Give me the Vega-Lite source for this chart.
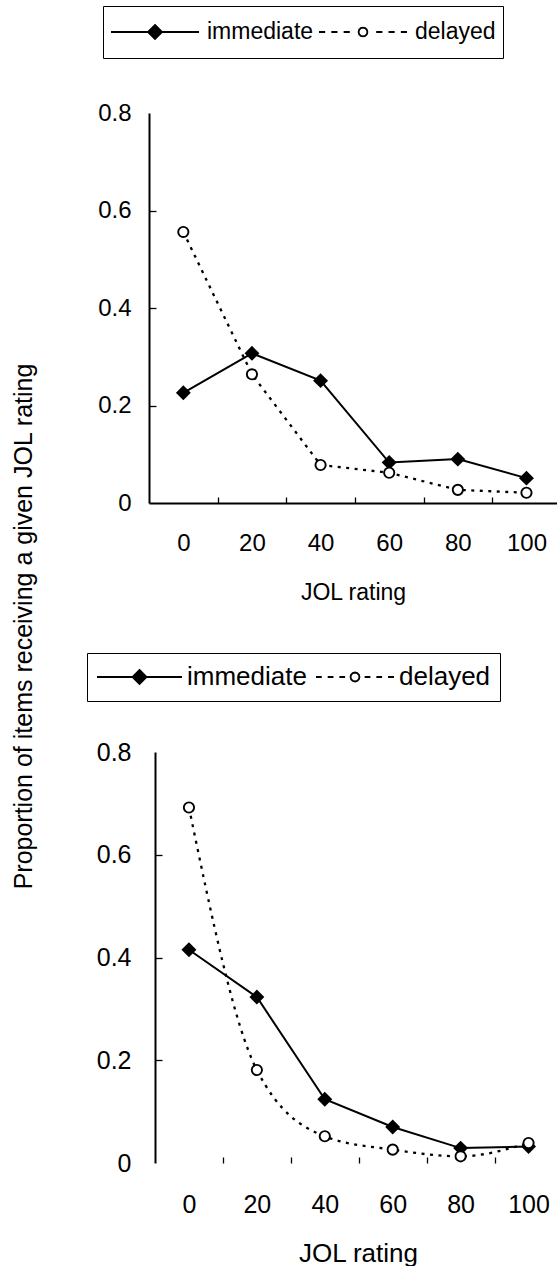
{
  "$schema": "https://vega.github.io/schema/vega-lite/v6.json",
  "background": "white",
  "padding": {"left": 11, "top": 5, "right": 0, "bottom": 0},
  "config": {
    "font": "Liberation Sans",
    "view": {"stroke": null},
    "axis": {"domainColor": "black", "domainWidth": 2, "tickColor": "black", "tickWidth": 1.3, "labelColor": "black", "titleColor": "black", "grid": false, "titleFontWeight": "normal", "labelFont": "Liberation Sans", "titleFont": "Liberation Sans", "labelFlush": false, "labelOverlap": false, "labelBound": false},
    "text": {"font": "Liberation Sans", "color": "black"}
  },
  "datasets": {
    "jol": [
      {"panel": "SSSJT", "condition": "immediate", "rating": 0, "proportion": 0.226},
      {"panel": "SSSJT", "condition": "immediate", "rating": 20, "proportion": 0.307},
      {"panel": "SSSJT", "condition": "immediate", "rating": 40, "proportion": 0.251},
      {"panel": "SSSJT", "condition": "immediate", "rating": 60, "proportion": 0.083},
      {"panel": "SSSJT", "condition": "immediate", "rating": 80, "proportion": 0.090},
      {"panel": "SSSJT", "condition": "immediate", "rating": 100, "proportion": 0.051},
      {"panel": "SSSJT", "condition": "delayed", "rating": 0, "proportion": 0.556},
      {"panel": "SSSJT", "condition": "delayed", "rating": 20, "proportion": 0.264},
      {"panel": "SSSJT", "condition": "delayed", "rating": 40, "proportion": 0.078},
      {"panel": "SSSJT", "condition": "delayed", "rating": 60, "proportion": 0.062},
      {"panel": "SSSJT", "condition": "delayed", "rating": 80, "proportion": 0.027},
      {"panel": "SSSJT", "condition": "delayed", "rating": 100, "proportion": 0.021},
      {"panel": "STSJT", "condition": "immediate", "rating": 0, "proportion": 0.415},
      {"panel": "STSJT", "condition": "immediate", "rating": 20, "proportion": 0.323},
      {"panel": "STSJT", "condition": "immediate", "rating": 40, "proportion": 0.124},
      {"panel": "STSJT", "condition": "immediate", "rating": 60, "proportion": 0.070},
      {"panel": "STSJT", "condition": "immediate", "rating": 80, "proportion": 0.029},
      {"panel": "STSJT", "condition": "immediate", "rating": 100, "proportion": 0.032},
      {"panel": "STSJT", "condition": "delayed", "rating": 0, "proportion": 0.692},
      {"panel": "STSJT", "condition": "delayed", "rating": 20, "proportion": 0.181},
      {"panel": "STSJT", "condition": "delayed", "rating": 40, "proportion": 0.052},
      {"panel": "STSJT", "condition": "delayed", "rating": 60, "proportion": 0.026},
      {"panel": "STSJT", "condition": "delayed", "rating": 80, "proportion": 0.013},
      {"panel": "STSJT", "condition": "delayed", "rating": 100, "proportion": 0.039}
    ]
  },
  "bounds": "flush",
  "spacing": 249,
  "resolve": {
    "scale": {"fill": "independent"},
    "legend": {"fill": "independent"}
  },
  "vconcat": [
    {
      "width": 408,
      "height": 390,
      "data": {"name": "jol"},
      "resolve": {"axis": {"x": "independent", "y": "independent"}},
      "encoding": {
        "x": {"field": "rating", "type": "quantitative", "scale": {"domain": [-10, 108.9], "nice": false, "zero": false}, "axis": null},
        "y": {"field": "proportion", "type": "quantitative", "scale": {"domain": [0, 0.8], "nice": false, "zero": true}, "axis": null}
      },
      "layer": [
        {
          "data": {"values": [{}]},
          "mark": {"type": "rule", "color": "black", "strokeWidth": 1.5},
          "encoding": {"x": {"datum": -10, "axis": null}, "x2": {"datum": 108.9}, "y": {"datum": 0.8, "axis": null}}
        },
        {
          "data": {"values": [{"label": "SSSJT"}]},
          "mark": {"type": "text", "fontSize": 23, "align": "center", "baseline": "middle"},
          "encoding": {"x": {"datum": 47.2, "axis": null}, "y": {"datum": 0.749, "axis": null}, "text": {"field": "label"}}
        },
        {
          "transform": [{"filter": "datum.panel === 'SSSJT' && datum.condition === 'immediate'"}],
          "mark": {"type": "line", "color": "black", "strokeWidth": 2},
          "encoding": {
            "x": {
              "field": "rating", "type": "quantitative",
              "scale": {"domain": [-10, 108.9], "nice": false, "zero": false},
              "axis": {
                "orient": "bottom", "title": "JOL rating", "titleFontSize": 23, "titleY": 78, "titleBaseline": "top",
                "values": [0, 20, 40, 60, 80, 100], "ticks": false,
                "labelPadding": 28, "labelFontSize": 24
              }
            },
            "y": {
              "field": "proportion", "type": "quantitative",
              "scale": {"domain": [0, 0.8], "nice": false, "zero": true},
              "axis": {
                "orient": "left",
                "title": "Proportion of items receiving a given JOL rating",
                "titleFontSize": 25, "titleAngle": 270, "titleX": -117.3, "titleY": 513,
                "titleAlign": "center", "titleBaseline": "alphabetic",
                "values": [0, 0.2, 0.4, 0.6, 0.8], "format": "~g", "ticks": false,
                "labelPadding": 18, "labelFontSize": 24
              }
            }
          }
        },
        {
          "transform": [{"filter": "datum.panel === 'SSSJT' && datum.condition === 'delayed'"}],
          "mark": {"type": "line", "color": "black", "strokeWidth": 2.3, "strokeDash": [3, 5.5]},
          "encoding": {
            "x": {
              "field": "rating", "type": "quantitative",
              "scale": {"domain": [-10, 108.9], "nice": false, "zero": false},
              "axis": {"orient": "bottom", "title": null, "values": [10, 30, 50, 70, 90], "labels": false, "domain": false, "tickSize": 6, "offset": -6}
            },
            "y": {
              "field": "proportion", "type": "quantitative",
              "scale": {"domain": [0, 0.8], "nice": false, "zero": true},
              "axis": {"orient": "left", "title": null, "values": [0.2, 0.4, 0.6], "labels": false, "domain": false, "tickSize": 7, "offset": -7}
            }
          }
        },
        {
          "transform": [{"filter": "datum.panel === 'SSSJT'"}],
          "mark": {"type": "point", "filled": true, "stroke": "black", "strokeWidth": 1.9, "opacity": 1},
          "encoding": {
            "shape": {"condition": {"test": "datum.condition === 'immediate'", "value": "diamond"}, "value": "circle"},
            "fill": {
              "field": "condition", "type": "nominal",
              "scale": {"domain": ["immediate", "delayed"], "range": ["black", "white"]},
              "legend": {
                "orient": "none", "legendX": -46, "legendY": -107, "direction": "horizontal",
                "title": null, "strokeColor": "black", "padding": 7,
                "symbolSize": 7744, "symbolStrokeWidth": 1.8, "symbolStrokeColor": "black", "symbolOpacity": 1,
                "clipHeight": 38,
                "labelFontSize": 23, "labelFont": "Liberation Sans", "labelColor": "black",
                "labelOffset": 7, "columnPadding": 4,
                "symbolType": {"expr": "datum.value === 'immediate' ? 'M-1,0L1,0M0,-0.16L0.16,0L0,0.16L-0.16,0Z' : 'M-1,0L-0.86,0M-0.72,0L-0.58,0M-0.44,0L-0.3,0M0.3,0L0.44,0M0.58,0L0.72,0M0.86,0L1,0M0.1,0L0.087,0.05L0.05,0.087L0,0.1L-0.05,0.087L-0.087,0.05L-0.1,0L-0.087,-0.05L-0.05,-0.087L0,-0.1L0.05,-0.087L0.087,-0.05Z'"}
              }
            },
            "size": {"condition": {"test": "datum.condition === 'immediate'", "value": 150}, "value": 105}
          }
        }
      ]
    },
    {
      "width": 408,
      "height": 411,
      "data": {"name": "jol"},
      "resolve": {"axis": {"x": "independent", "y": "independent"}},
      "encoding": {
        "x": {"field": "rating", "type": "quantitative", "scale": {"domain": [-11.765, 108.38], "nice": false, "zero": false}, "axis": null},
        "y": {"field": "proportion", "type": "quantitative", "scale": {"domain": [0, 0.8], "nice": false, "zero": true}, "axis": null}
      },
      "layer": [
        {
          "data": {"values": [{}]},
          "mark": {"type": "rule", "color": "black", "strokeWidth": 1.5},
          "encoding": {"x": {"datum": -10, "axis": null}, "x2": {"datum": 108.38}, "y": {"datum": 0.8, "axis": null}}
        },
        {
          "data": {"values": [{}]},
          "mark": {"type": "rule", "color": "black", "strokeWidth": 2},
          "encoding": {"x": {"datum": -10, "axis": null}, "x2": {"datum": 108.38}, "y": {"datum": 0, "axis": null}}
        },
        {
          "data": {"values": [{"label": "STSJT"}]},
          "mark": {"type": "text", "fontSize": 23, "align": "center", "baseline": "middle"},
          "encoding": {"x": {"datum": 49.8, "axis": null}, "y": {"datum": 0.75, "axis": null}, "text": {"field": "label"}}
        },
        {
          "transform": [{"filter": "datum.panel === 'STSJT' && datum.condition === 'immediate'"}],
          "mark": {"type": "line", "color": "black", "strokeWidth": 2},
          "encoding": {
            "x": {
              "field": "rating", "type": "quantitative",
              "scale": {"domain": [-11.765, 108.38], "nice": false, "zero": false},
              "axis": {
                "orient": "bottom", "title": "JOL rating", "titleFontSize": 26, "titleY": 77, "titleX": 209, "titleBaseline": "top",
                "domain": false, "values": [0, 20, 40, 60, 80, 100], "ticks": false,
                "labelPadding": 29, "labelFontSize": 25
              }
            },
            "y": {
              "field": "proportion", "type": "quantitative",
              "scale": {"domain": [0, 0.8], "nice": false, "zero": true},
              "axis": {
                "orient": "left", "title": null, "offset": -6,
                "values": [0, 0.2, 0.4, 0.6, 0.8], "format": "~g", "ticks": false,
                "labelPadding": 24, "labelFontSize": 25
              }
            }
          }
        },
        {
          "transform": [{"filter": "datum.panel === 'STSJT' && datum.condition === 'delayed'"}],
          "mark": {"type": "line", "color": "black", "strokeWidth": 2.3, "strokeDash": [3, 5.5], "interpolate": "monotone"},
          "encoding": {
            "x": {
              "field": "rating", "type": "quantitative",
              "scale": {"domain": [-11.765, 108.38], "nice": false, "zero": false},
              "axis": {"orient": "bottom", "title": null, "values": [10, 30, 50, 70, 90], "labels": false, "domain": false, "tickSize": 6, "offset": -6}
            },
            "y": {
              "field": "proportion", "type": "quantitative",
              "scale": {"domain": [0, 0.8], "nice": false, "zero": true},
              "axis": {"orient": "left", "title": null, "values": [0.2, 0.4, 0.6], "labels": false, "domain": false, "tickSize": 7, "offset": -13}
            }
          }
        },
        {
          "transform": [{"filter": "datum.panel === 'STSJT'"}],
          "mark": {"type": "point", "filled": true, "stroke": "black", "strokeWidth": 1.9, "opacity": 1},
          "encoding": {
            "shape": {"condition": {"test": "datum.condition === 'immediate'", "value": "diamond"}, "value": "circle"},
            "fill": {
              "field": "condition", "type": "nominal",
              "scale": {"domain": ["immediate", "delayed"], "range": ["black", "white"]},
              "legend": {
                "orient": "none", "legendX": -62, "legendY": -99, "direction": "horizontal",
                "title": null, "strokeColor": "black", "padding": 9,
                "symbolSize": 7225, "symbolStrokeWidth": 1.8, "symbolStrokeColor": "black", "symbolOpacity": 1,
                "clipHeight": 30,
                "labelFontSize": 26, "labelFont": "Liberation Sans", "labelColor": "black",
                "labelOffset": 4, "columnPadding": 1,
                "symbolType": {"expr": "datum.value === 'immediate' ? 'M-1,0L1,0M0,-0.165L0.165,0L0,0.165L-0.165,0Z' : 'M-0.835,0L-0.7,0M-0.56,0L-0.425,0M-0.285,0L-0.15,0M0.31,0L0.445,0M0.585,0L0.72,0M0.86,0L1,0M0.187,0L0.173,0.0525L0.1345,0.0909L0.082,0.105L0.0295,0.0909L-0.009,0.0525L-0.023,0L-0.009,-0.0525L0.0295,-0.0909L0.082,-0.105L0.1345,-0.0909L0.173,-0.0525Z'"}
              }
            },
            "size": {"condition": {"test": "datum.condition === 'immediate'", "value": 150}, "value": 105}
          }
        }
      ]
    }
  ]
}
